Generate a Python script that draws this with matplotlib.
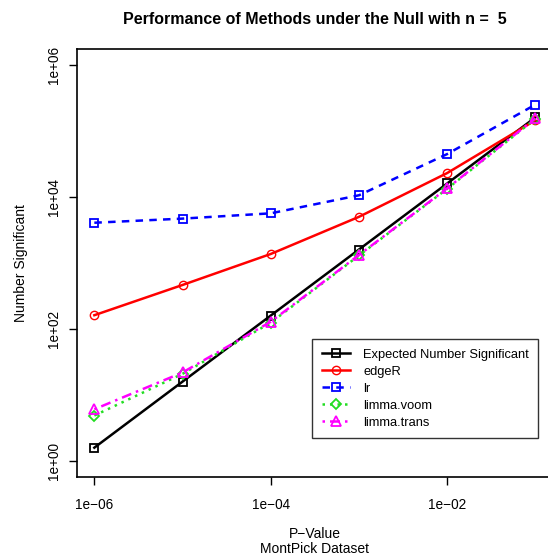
import numpy as np
import matplotlib
matplotlib.use("Agg")
import matplotlib.pyplot as plt

plt.rcParams['font.family'] = ['Liberation Sans', 'DejaVu Sans']

# p-value cutoffs and number of genes called significant
p_values = [1e-6, 1e-5, 1e-4, 1e-3, 1e-2, 1e-1]
expected = [1.6, 16, 160, 1600, 16000, 160000]
edger = [162, 465, 1370, 5000, 23000, 145000]
lr = [4070, 4700, 5650, 10600, 44600, 250000]
limma_voom = [4.9, 21, 125, 1300, 13300, 152000]
limma_trans = [6.1, 22, 129, 1320, 13500, 155000]

x_ticks = [1e-6, 1e-4, 1e-2]
x_tick_labels = ["1e\u221206", "1e\u221204", "1e\u221202"]
y_ticks = [1e0, 1e2, 1e4, 1e6]
y_tick_labels = ["1e+00", "1e+02", "1e+04", "1e+06"]

fig = plt.figure(figsize=(5.48, 5.56), dpi=100)
ax = fig.add_axes([76.7 / 548, 79 / 556, (553 - 76.7) / 548, 428 / 556])

ax.plot(p_values, expected, color='black', lw=1.8, marker='s', ms=6,
        mfc='none', mew=1.3, label='Expected Number Significant')
ax.plot(p_values, edger, color='red', lw=1.8, marker='o', ms=6,
        mfc='none', mew=1.0, label='edgeR')
ax.plot(p_values, lr, color='blue', lw=1.8, ls=(0, (3, 2.5)), marker='s', ms=5.5,
        mfc='none', mew=1.3, label='lr')
ax.plot(p_values, limma_voom, color='#22dd22', lw=1.8, ls=(0, (1, 2)), marker='D', ms=5,
        mfc='none', mew=1.3, label='limma.voom')
ax.plot(p_values, limma_trans, color='magenta', lw=1.8, ls=(0, (1, 2, 4, 2)), marker='^', ms=7,
        mfc='none', mew=1.3, label='limma.trans')

ax.set_xscale('log')
ax.set_yscale('log')
ax.set_xlim(10 ** -6.2, 10 ** -0.8)
ax.set_ylim(10 ** -0.24, 10 ** 6.24)
ax.minorticks_off()
ax.set_xticks(x_ticks)
ax.set_xticklabels(x_tick_labels, fontsize=9.8)
ax.set_yticks(y_ticks)
ax.set_yticklabels(y_tick_labels, fontsize=9.8, rotation=90, va='center')
ax.tick_params(direction='out', length=6, width=1, pad=5)
ax.tick_params(axis='x', pad=9)
for s in ax.spines.values():
    s.set_linewidth(1.2)

ax.set_xlabel("P\u2212Value\nMontPick Dataset", fontsize=10, labelpad=11, linespacing=1.1)
ax.set_ylabel("Number Significant", fontsize=10, labelpad=14)
ax.set_title("Performance of Methods under the Null with n =  5",
             fontsize=11.5, fontweight='bold', pad=18)

leg = ax.legend(loc='upper left', bbox_to_anchor=(312 / 548, 1 - 339 / 556),
                bbox_transform=fig.transFigure, fontsize=9.3, frameon=True,
                fancybox=False, handlelength=2.2, labelspacing=0.38,
                borderpad=0.75, handletextpad=1.0, borderaxespad=0)
leg.get_frame().set_edgecolor('black')
leg.get_frame().set_linewidth(1.0)

fig.savefig("out.png", dpi=100)
